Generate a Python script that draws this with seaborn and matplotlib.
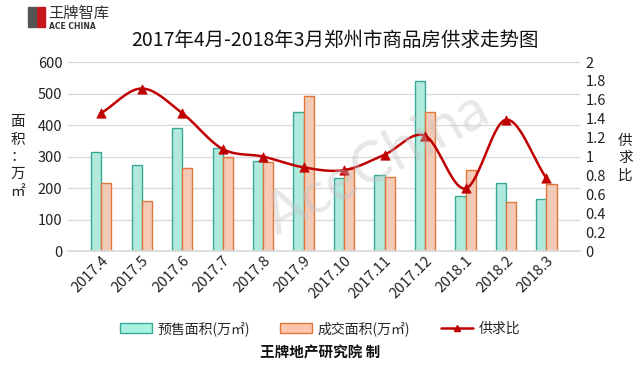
#!/usr/bin/env python3
# 郑州商品房供求走势图 (2017.4 - 2018.3): presale/deal bars + smoothed supply/demand ratio line

import numpy as np
import pandas as pd
import seaborn as sns
import matplotlib.pyplot as plt
from matplotlib.patches import Rectangle

MONTHS   = ["2017.4", "2017.5", "2017.6", "2017.7", "2017.8", "2017.9",
            "2017.10", "2017.11", "2017.12", "2018.1", "2018.2", "2018.3"]
PRESALE  = [315, 273, 390, 328, 287, 440, 231, 241, 540, 175, 215, 165]   # 预售面积
DEAL     = [215, 158, 265, 300, 284, 492, 262, 235, 442, 259, 155, 213]   # 成交面积
RATIO    = [1.46, 1.72, 1.46, 1.08, 1.00, 0.886, 0.857, 1.02, 1.22, 0.663, 1.39, 0.77]

SERIES   = ["预售面积(万㎡)", "成交面积(万㎡)"]
FACES    = ["#A9F2E2", "#FCC6AC"]
EDGES    = ["#35A995", "#E2763A"]
LINE_COL = "#C00000"


def catmull_rom(x, y, n=30):
    # smooth curve through the points (Excel "smoothed line" look)
    x = np.asarray(x, float); y = np.asarray(y, float)
    px = np.concatenate([[2 * x[0] - x[1]], x, [2 * x[-1] - x[-2]]])
    py = np.concatenate([[2 * y[0] - y[1]], y, [2 * y[-1] - y[-2]]])
    xs, ys = [], []
    t = np.linspace(0, 1, n)
    for i in range(1, len(px) - 2):
        for p, out in ((px, xs), (py, ys)):
            p0, p1, p2, p3 = p[i - 1], p[i], p[i + 1], p[i + 2]
            out.append(0.5 * ((2 * p1) + (-p0 + p2) * t
                              + (2 * p0 - 5 * p1 + 4 * p2 - p3) * t ** 2
                              + (-p0 + 3 * p1 - 3 * p2 + p3) * t ** 3))
    return np.concatenate(xs), np.concatenate(ys)


def main():
    sns.set_theme(style="white")
    plt.rcParams["font.family"] = ["Noto Sans CJK SC", "DejaVu Sans"]

    df = pd.DataFrame({
        "month": MONTHS * 2,
        "value": PRESALE + DEAL,
        "series": [SERIES[0]] * len(MONTHS) + [SERIES[1]] * len(MONTHS),
    })

    fig = plt.figure(figsize=(6.4, 3.65), dpi=100)
    ax = fig.add_axes([0.106, 0.312, 0.800, 0.518])

    sns.barplot(data=df, x="month", y="value", hue="series", order=MONTHS,
                hue_order=SERIES, palette=FACES, width=0.5, errorbar=None,
                ax=ax, zorder=2, linewidth=1.0)
    n = len(MONTHS)
    for i, patch in enumerate(ax.patches[:2 * n]):
        patch.set_edgecolor(EDGES[i // n])
    if ax.get_legend():
        ax.get_legend().remove()

    ax.set_ylim(0, 600)
    ax.set_yticks(range(0, 601, 100))
    ax.grid(True, axis="y", color="#D9D9D9", linewidth=0.9, zorder=0)
    ax.set_axisbelow(True)
    for s in ("top", "right", "left"):
        ax.spines[s].set_visible(False)
    ax.spines["bottom"].set_color("#D9D9D9")
    ax.set_xlabel(""); ax.set_ylabel("")
    ax.tick_params(axis="y", length=0, labelsize=10.5, colors="#222222", pad=4)
    ax.tick_params(axis="x", length=0, labelsize=10.5, colors="#222222", pad=2)
    for lab in ax.get_xticklabels():
        lab.set_rotation(45)
        lab.set_ha("right")
        lab.set_rotation_mode("anchor")

    ax2 = ax.twinx()
    xs, ys = catmull_rom(np.arange(n), RATIO)
    ax2.plot(xs, ys, color=LINE_COL, linewidth=1.8, zorder=3)
    sns.scatterplot(x=np.arange(n), y=RATIO, marker="^", s=45, color=LINE_COL,
                    edgecolor=LINE_COL, ax=ax2, zorder=4)
    ax2.set_ylim(0, 2)
    ax2.set_yticks(np.arange(0, 2.01, 0.2))
    ax2.set_yticklabels([f"{v:g}" for v in np.round(np.arange(0, 2.01, 0.2), 1)])
    ax2.tick_params(axis="y", length=0, labelsize=10.5, colors="#222222", pad=4)
    ax2.grid(False)
    for s in ("top", "right", "left", "bottom"):
        ax2.spines[s].set_visible(False)

    # axis titles written vertically
    fig.text(0.028, 0.57, "面\n积\n：\n万\n㎡", ha="center", va="center",
             fontsize=10.5, linespacing=1.3, color="#222222")
    fig.text(0.977, 0.567, "供\n求\n比", ha="center", va="center",
             fontsize=10.5, linespacing=1.3, color="#222222")

    fig.text(0.523, 0.89, "2017年4月-2018年3月郑州市商品房供求走势图",
             ha="center", va="center", fontsize=14, color="#111111")

    # watermark
    fig.text(0.59, 0.55, "AceChina", ha="center", va="center", fontsize=42,
             rotation=28, color="#C4C4C4", alpha=0.4, family=["Lato", "DejaVu Sans"])

    # logo
    fig.patches.append(Rectangle((0.058, 0.925), 0.012, 0.055, transform=fig.transFigure,
                                 color="#C8161D"))
    fig.patches.append(Rectangle((0.044, 0.925), 0.012, 0.055, transform=fig.transFigure,
                                 color="#555555"))
    fig.text(0.076, 0.963, "王牌智库", fontsize=11, va="center", color="#333333")
    fig.text(0.076, 0.928, "ACE CHINA", fontsize=5.5, va="center", color="#333333",
             fontweight="bold", family=["DejaVu Sans"])

    # legend
    handles = [Rectangle((0, 0), 1, 1, facecolor=FACES[i], edgecolor=EDGES[i]) for i in range(2)]
    handles.append(plt.Line2D([], [], color=LINE_COL, marker="^", markersize=5, linewidth=1.8))
    fig.legend(handles, SERIES + ["供求比"], loc="center", bbox_to_anchor=(0.5, 0.1),
               ncol=3, frameon=False, fontsize=10, handlelength=2.3, handleheight=0.8,
               columnspacing=2.2, handletextpad=0.4)

    fig.text(0.5, 0.035, "王牌地产研究院 制", ha="center", va="center",
             fontsize=10.5, fontweight="bold", color="#111111")

    fig.savefig("out.png", dpi=100)


if __name__ == "__main__":
    main()
